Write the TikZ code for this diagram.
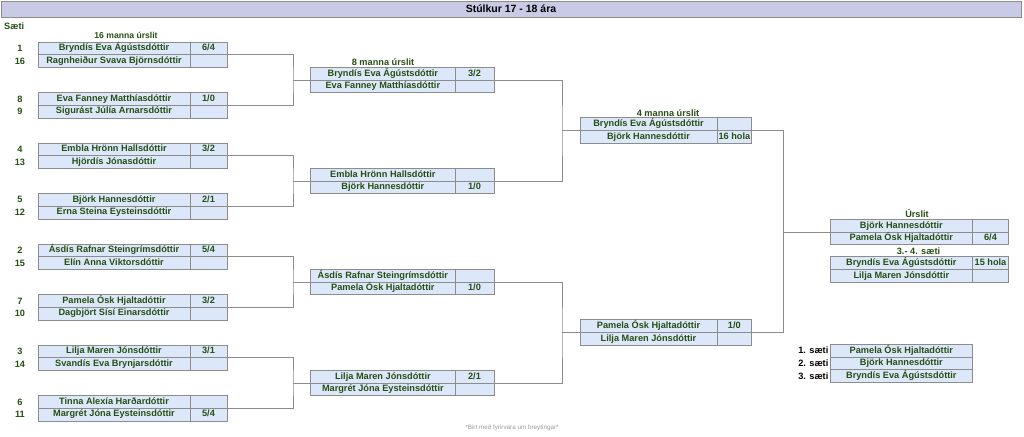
\documentclass[tikz,border=0pt]{standalone}
\usepackage{fontspec}
\setmainfont{Liberation Sans}
\usetikzlibrary{positioning}
\definecolor{dgreen}{HTML}{274E13}
\definecolor{cellblue}{HTML}{DCE8FA}
\definecolor{headlav}{HTML}{C9CBE6}
\definecolor{rulegray}{HTML}{8C8C8C}

% one match: id, x, top, name width, score width, player, score, player, score
\newcommand{\pairbox}[9]{%
\node[namecell, minimum width=#4pt, anchor=north west] (#1a) at (#2,#3) {#6};
\node[namecell, minimum width=#5pt, right=0pt of #1a] (#1as) {#7};
\node[namecell, minimum width=#4pt, below=0pt of #1a] (#1b) {#8};
\node[namecell, minimum width=#5pt, right=0pt of #1b] (#1bs) {#9};
}

\begin{document}
\begin{tikzpicture}[x=1pt,y=-1pt,
  namecell/.style={draw=rulegray, fill=cellblue, text=dgreen, line width=0.6pt,
    font=\fontsize{9.2}{10}\selectfont\bfseries, inner sep=0pt, outer sep=0pt,
    minimum height=12.7pt, text height=6.7pt, text depth=1.9pt},
  link/.style={draw=rulegray, line width=0.6pt},
  label/.style={text=dgreen, font=\fontsize{9.2}{10}\selectfont\bfseries, inner sep=0pt},
  seedtxt/.style={label, anchor=center}]
\useasboundingbox (0,0) rectangle (1024,436);

\node[draw=rulegray, fill=headlav, minimum width=1020pt, minimum height=16.3pt,
  inner sep=0pt, font=\fontsize{10.5}{12}\selectfont\bfseries] (title) at (511,9.15) {Stúlkur 17 - 18 ára};
\node[label, anchor=west] (saeti) at (4,26) {Sæti};

% 16 manna
\node[label, font=\fontsize{8.6}{9}\selectfont\bfseries] (r16) at (126,35.3) {16 manna úrslit};
\pairbox{p1}{38}{42}{152}{37}{Bryndís Eva Ágústsdóttir}{6/4}{Ragnheiður Svava Björnsdóttir}{}
\pairbox{p2}{38}{92.5}{152}{37}{Eva Fanney Matthíasdóttir}{1/0}{Sigurást Júlía Arnarsdóttir}{}
\pairbox{p3}{38}{143}{152}{37}{Embla Hrönn Hallsdóttir}{3/2}{Hjördís Jónasdóttir}{}
\pairbox{p4}{38}{193.5}{152}{37}{Björk Hannesdóttir}{2/1}{Erna Steina Eysteinsdóttir}{}
\pairbox{p5}{38}{244}{152}{37}{Ásdís Rafnar Steingrímsdóttir}{5/4}{Elín Anna Viktorsdóttir}{}
\pairbox{p6}{38}{294.5}{152}{37}{Pamela Ósk Hjaltadóttir}{3/2}{Dagbjört Sísí Einarsdóttir}{}
\pairbox{p7}{38}{345}{152}{37}{Lilja Maren Jónsdóttir}{3/1}{Svandís Eva Brynjarsdóttir}{}
\pairbox{p8}{38}{395.5}{152}{37}{Tinna Alexía Harðardóttir}{}{Margrét Jóna Eysteinsdóttir}{5/4}

\foreach \s/\row in {1/p1a,16/p1b,8/p2a,9/p2b,4/p3a,13/p3b,5/p4a,12/p4b,
  2/p5a,15/p5b,7/p6a,10/p6b,3/p7a,14/p7b,6/p8a,11/p8b}
  \node[seedtxt] (s\s) at ([xshift=-18pt]\row.west) {\s};

% 8 manna
\node[label] (r8) at (383,62.3) {8 manna úrslit};
\pairbox{q1}{310.7}{67.3}{144.3}{39}{Bryndís Eva Ágústsdóttir}{3/2}{Eva Fanney Matthíasdóttir}{}
\pairbox{q2}{310.7}{168.3}{144.3}{39}{Embla Hrönn Hallsdóttir}{}{Björk Hannesdóttir}{1/0}
\pairbox{q3}{310.7}{269.3}{144.3}{39}{Ásdís Rafnar Steingrímsdóttir}{}{Pamela Ósk Hjaltadóttir}{1/0}
\pairbox{q4}{310.7}{370.3}{144.3}{39}{Lilja Maren Jónsdóttir}{2/1}{Margrét Jóna Eysteinsdóttir}{}

% 4 manna
\node[label] (r4) at (668,112.7) {4 manna úrslit};
\pairbox{h1}{580}{117.7}{137}{34.7}{Bryndís Eva Ágústsdóttir}{}{Björk Hannesdóttir}{16 hola}
\pairbox{h2}{580}{319.7}{137}{34.7}{Pamela Ósk Hjaltadóttir}{1/0}{Lilja Maren Jónsdóttir}{}

% urslit
\node[label] (fin) at (917,213.3) {Úrslit};
\pairbox{f1}{830}{219.3}{142.7}{35.6}{Björk Hannesdóttir}{}{Pamela Ósk Hjaltadóttir}{6/4}
\node[label] (bronze) at (918.5,251.7) {3.- 4. sæti};
\pairbox{b1}{830}{256.7}{142.7}{35.6}{Bryndís Eva Ágústsdóttir}{15 hola}{Lilja Maren Jónsdóttir}{}

% brackets
\foreach \tgt/\upr/\lwr/\off in {q1/p1/p2/17.7, q2/p3/p4/17.7, q3/p5/p6/17.7, q4/p7/p8/17.7,
  h1/q1/q2/18, h2/q3/q4/18, f1/h1/h2/47} {
  \coordinate (j\tgt) at ([xshift=-\off pt]\tgt a.south west);
  \draw[link] (\upr as.south east) -| (j\tgt) |- (\lwr as.south east);
  \draw[link] (j\tgt) -- (\tgt a.south west);
}

% saeti
\node[namecell, minimum width=142.7pt, anchor=north west] (pl1) at (830,344.3) {Pamela Ósk Hjaltadóttir};
\node[namecell, minimum width=142.7pt, below=0pt of pl1] (pl2) {Björk Hannesdóttir};
\node[namecell, minimum width=142.7pt, below=0pt of pl2] (pl3) {Bryndís Eva Ágústsdóttir};
\foreach \n in {1,2,3}
  \node[label, text=black, anchor=east] (pt\n) at ([xshift=-1.5pt]pl\n.west) {\n. sæti};

\node[text=gray!80, font=\fontsize{6.3}{7}\selectfont, inner sep=0pt] (note) at (512,428) {*Birt með fyrirvara um breytingar*};
\end{tikzpicture}
\end{document}
